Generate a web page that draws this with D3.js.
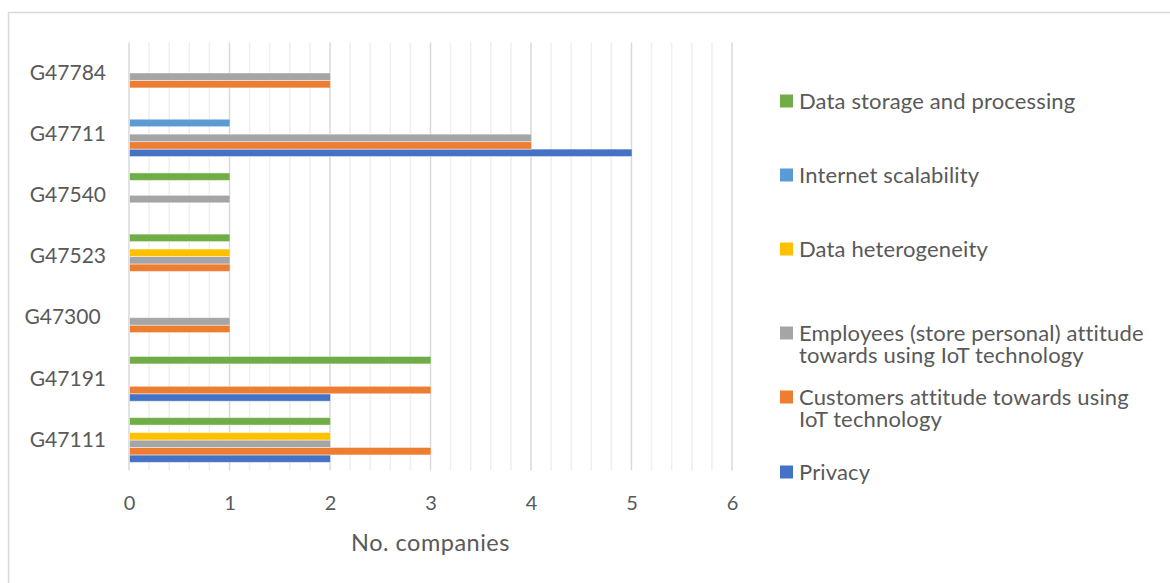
<!DOCTYPE html>
<html>
<head>
<meta charset="utf-8">
<script src="https://cdn.jsdelivr.net/npm/d3@7"></script>
<style>
  html, body { margin: 0; padding: 0; background: #fff; }
  svg { display: block; font-family: Lato, "Open Sans", sans-serif; }
  text { fill: #595959; white-space: pre; }
</style>
</head>
<body>
<svg id="chart" width="1170" height="583"></svg>
<script>
// Industry codes (top to bottom as shown)
const categories = ["G47784", "G47711", "G47540", "G47523", "G47300 ", "G47191", "G47111"];

// Series in plotting order (first series sits at the bottom of each group)
const seriesNames = [
  "Privacy",
  "Customers attitude towards using IoT technology",
  "Employees (store personal) attitude towards using IoT technology",
  "Data heterogeneity",
  "Internet scalability",
  "Data storage and processing"
];
const seriesColors = ["#4472C4", "#ED7D31", "#A5A5A5", "#FFC000", "#5B9BD5", "#70AD47"];

// Number of companies per category, one array per series (same order as categories)
const privacy       = [0, 5, 0, 0, 0, 2, 2];
const customers     = [2, 4, 0, 1, 1, 3, 3];
const employees     = [2, 4, 1, 1, 1, 0, 2];
const heterogeneity = [0, 0, 0, 1, 0, 0, 2];
const scalability   = [0, 1, 0, 0, 0, 0, 0];
const storage       = [0, 0, 1, 1, 0, 3, 2];
const seriesValues = [privacy, customers, employees, heterogeneity, scalability, storage];

const xTicks = [0, 1, 2, 3, 4, 5, 6];
const xTitle = "No. companies";

// Legend entries, listed top to bottom, with wrapped lines
const legendItems = [
  { s: 5, lines: ["Data storage and processing"], y: 101 },
  { s: 4, lines: ["Internet scalability"], y: 175 },
  { s: 3, lines: ["Data heterogeneity"], y: 249 },
  { s: 2, lines: ["Employees (store personal) attitude", "towards using IoT technology"], y: 333 },
  { s: 1, lines: ["Customers attitude towards using", "IoT technology"], y: 397 },
  { s: 0, lines: ["Privacy"], y: 472 }
];

const svg = d3.select("#chart");

// Chart area frame
svg.append("rect")
  .attr("x", 8.5).attr("y", 12.5)
  .attr("width", 1200).attr("height", 620)
  .attr("fill", "#fff").attr("stroke", "#D9D9D9").attr("stroke-width", 1.5);

const plot = { left: 129, right: 732, top: 42.4, bottom: 470.6 };

const x = d3.scaleLinear().domain([0, 6]).range([plot.left, plot.right]);
const y = d3.scaleBand().domain(categories).range([plot.top, plot.bottom]).padding(0);

// Inner band for the six bars of a group
const groupFrac = 0.732;
const inner = d3.scaleBand()
  .domain(d3.range(seriesNames.length).reverse())
  .range([y.bandwidth() * (1 - groupFrac) / 2, y.bandwidth() * (1 + groupFrac) / 2]);

// Minor gridlines
const minor = d3.range(0, 6.0001, 0.2).filter(v => Math.abs(v - Math.round(v)) > 1e-6);
svg.append("g").selectAll("line").data(minor).join("line")
  .attr("x1", d => x(d)).attr("x2", d => x(d))
  .attr("y1", plot.top).attr("y2", plot.bottom)
  .attr("stroke", "#EFEFEF").attr("stroke-width", 1.5);

// Major gridlines
svg.append("g").selectAll("line").data(xTicks).join("line")
  .attr("x1", d => x(d)).attr("x2", d => x(d))
  .attr("y1", plot.top).attr("y2", plot.bottom)
  .attr("stroke", "#D9D9D9").attr("stroke-width", 1.5);

// Bars
const bars = [];
seriesValues.forEach((vals, s) => {
  vals.forEach((v, i) => { if (v > 0) bars.push({ s, cat: categories[i], v }); });
});
svg.append("g").selectAll("rect").data(bars).join("rect")
  .attr("x", x(0) + 0.5)
  .attr("y", d => y(d.cat) + inner(d.s))
  .attr("width", d => x(d.v) - x(0))
  .attr("height", inner.bandwidth())
  .attr("fill", d => seriesColors[d.s])
  .attr("stroke", "rgba(255,255,255,0.45)").attr("stroke-width", 1);

// X axis labels
const xAxis = svg.append("g")
  .attr("transform", `translate(0,${plot.bottom})`)
  .call(d3.axisBottom(x).tickValues(xTicks).tickSize(0).tickPadding(25).tickFormat(d3.format("d")))
  .attr("font-family", null).attr("font-size", 20);
xAxis.select(".domain").remove();
xAxis.selectAll("text").attr("fill", "#595959");

// Y axis labels
const yAxis = svg.append("g")
  .attr("transform", `translate(${plot.left},0)`)
  .call(d3.axisLeft(y).tickSize(0).tickPadding(23))
  .attr("font-family", null).attr("font-size", 21);
yAxis.select(".domain").remove();
yAxis.selectAll("text").attr("fill", "#595959");

// Axis title
svg.append("text")
  .attr("x", (plot.left + plot.right) / 2).attr("y", 542)
  .attr("text-anchor", "middle").attr("dominant-baseline", "central")
  .attr("font-size", 23.5).attr("letter-spacing", 0.5).text(xTitle);

// Legend: one text element per entry, wrapped lines as tspans
const lg = svg.append("g").attr("font-size", 22).attr("letter-spacing", 0.15);
legendItems.forEach(item => {
  lg.append("rect")
    .attr("x", 780).attr("y", item.y - 6.5)
    .attr("width", 13).attr("height", 13)
    .attr("fill", seriesColors[item.s]);
  const t = lg.append("text")
    .attr("x", 799).attr("y", item.y + 7.5);
  item.lines.forEach((ln, k) => {
    t.append("tspan")
      .attr("x", 799)
      .attr("dy", k === 0 ? 0 : 22)
      .text(ln);
  });
});
</script>
</body>
</html>
